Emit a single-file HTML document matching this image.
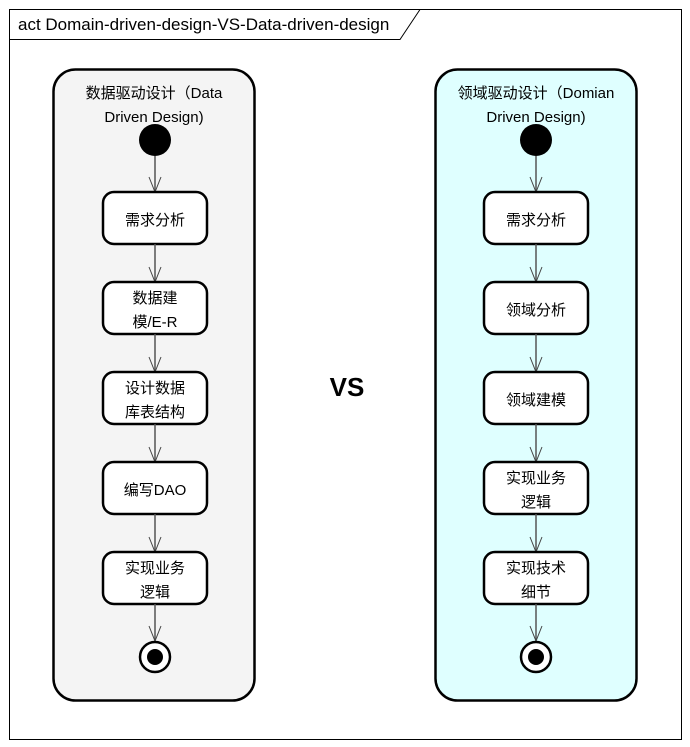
<!DOCTYPE html>
<html><head><meta charset="utf-8"><style>
html,body{margin:0;padding:0;background:#fff;}
svg{display:block;font-family:"Liberation Sans","Noto Sans CJK SC",sans-serif;}
</style></head><body>
<svg width="690" height="747" viewBox="0 0 690 747" xmlns="http://www.w3.org/2000/svg">
<g>
<rect x="9.5" y="9.5" width="672" height="730" fill="#fff" stroke="#000" stroke-width="1"/>
<path d="M9.5,39.5 L400,39.5 L420,9.5" fill="none" stroke="#000" stroke-width="1"/>
<text x="18" y="30" font-size="17" fill="#000">act Domain-driven-design-VS-Data-driven-design</text>
</g>
<g id="left">
<rect x="53.5" y="69.5" width="201" height="631" rx="22" fill="#f4f4f4" stroke="#000" stroke-width="2.5"/>
<text x="154" y="98" font-size="15" text-anchor="middle">数据驱动设计（Data</text>
<text x="154" y="122" font-size="15" text-anchor="middle">Driven Design)</text>
</g>
<g id="right">
<rect x="435.5" y="69.5" width="201" height="631" rx="22" fill="#dfffff" stroke="#000" stroke-width="2.5"/>
<text x="536" y="98" font-size="15" text-anchor="middle">领域驱动设计（Domian</text>
<text x="536" y="122" font-size="15" text-anchor="middle">Driven Design)</text>
</g>
<text x="347" y="396" font-size="26" font-weight="bold" text-anchor="middle">VS</text>
<g id="flows"></g>
</svg>
<script>
const leftSteps=[["需求分析"],["数据建","模/E-R"],["设计数据","库表结构"],["编写DAO"],["实现业务","逻辑"]];
const rightSteps=[["需求分析"],["领域分析"],["领域建模"],["实现业务","逻辑"],["实现技术","细节"]];
const NS="http://www.w3.org/2000/svg";
const g=document.getElementById('flows');
function mk(tag,attrs){const e=document.createElementNS(NS,tag);for(const k in attrs)e.setAttribute(k,attrs[k]);g.appendChild(e);return e;}
function arrow(cx,y1,y2,name){
  let a=mk('line',{x1:cx,y1:y1,x2:cx,y2:y2,stroke:'#555','stroke-width':1.5});
  
  
  let h=mk('path',{d:'M'+(cx-6)+','+(y2-15)+' L'+cx+','+y2+' L'+(cx+6)+','+(y2-15),fill:'none',stroke:'#444','stroke-width':1});
  
  
}
function flow(cx,steps,side){
  const top0=192,step=90,h=52,w=104;
  let s=mk('circle',{cx:cx,cy:140,r:16,fill:'#000'});
  
  
  let prevBottom=156;
  steps.forEach((lines,i)=>{
    const y=top0+i*step;
    arrow(cx,prevBottom,y,side+'-flow-arrow-'+(i+1));
    let r=mk('rect',{x:cx-w/2,y:y,width:w,height:h,rx:11,fill:'#fff',stroke:'#000','stroke-width':2.5});
    
    
    lines.forEach((t,j)=>{
      const ty=lines.length===1? y+h/2+7 : y+h/2-5+j*24;
      let tx=mk('text',{x:cx,y:ty,'font-size':15,'text-anchor':'middle'});
      tx.textContent=t;
      
      
    });
    prevBottom=y+h;
  });
  arrow(cx,prevBottom,641,side+'-final-arrow');
  let f=mk('circle',{cx:cx,cy:657,r:15,fill:'#fff',stroke:'#000','stroke-width':2.5});
  
  
  let fi=mk('circle',{cx:cx,cy:657,r:8,fill:'#000'});
  
  
}
flow(155,leftSteps,'left');
flow(536,rightSteps,'right');
</script>
</body></html>
